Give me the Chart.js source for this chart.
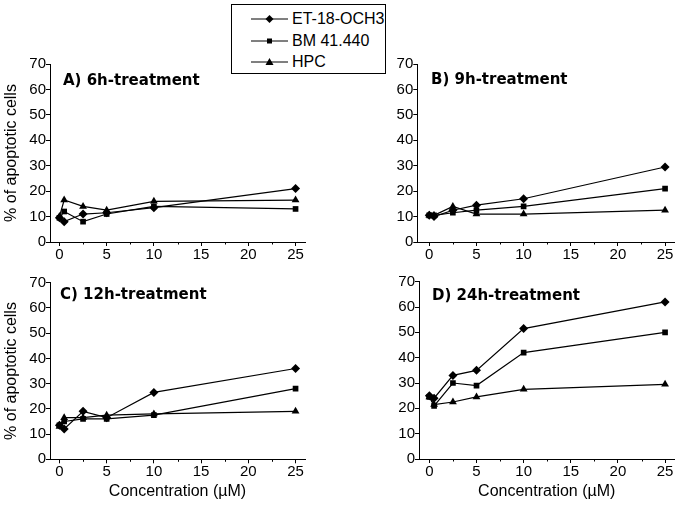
<!DOCTYPE html>
<html lang="en">
<head>
<meta charset="UTF-8">
<title>Apoptotic cells vs concentration</title>
<script src="https://cdn.jsdelivr.net/npm/chart.js"></script>
<style>
  body {
    margin: 0;
    width: 681px;
    height: 507px;
    position: relative;
    overflow: hidden;
    background: #fff;
    font-family: "Liberation Sans", Arial, sans-serif;
    color: #000;
  }
  canvas { position: absolute; }
  .panel-label {
    position: absolute;
    font-family: "DejaVu Sans", sans-serif;
    font-weight: bold;
    font-size: 15px;
    line-height: 18px;
    white-space: nowrap;
    z-index: 2;
  }
  .legend {
    position: absolute;
    left: 231px;
    top: 4px;
    width: 155px;
    height: 70px;
    box-sizing: border-box;
    border: 1px solid #000;
    background: #fff;
    z-index: 2;
  }
  .legend .row {
    position: absolute;
    left: 19px;
    height: 20px;
    display: flex;
    align-items: center;
    font-size: 16px;
    white-space: nowrap;
  }
  .legend svg { margin-right: 4px; }
</style>
</head>
<body>
  <div class="legend">
    <div class="row" style="top:4px">
      <svg width="37" height="12"><line x1="0" y1="6" x2="37" y2="6" stroke="#000" stroke-width="1"/><polygon points="18.5,2 22.5,6 18.5,10 14.5,6" fill="#000"/></svg>ET-18-OCH3
    </div>
    <div class="row" style="top:26px">
      <svg width="37" height="12"><line x1="0" y1="6" x2="37" y2="6" stroke="#000" stroke-width="1"/><rect x="16" y="3.5" width="5" height="5" fill="#000"/></svg>BM 41.440
    </div>
    <div class="row" style="top:47px">
      <svg width="37" height="12"><line x1="0" y1="6" x2="37" y2="6" stroke="#000" stroke-width="1"/><polygon points="18.5,2 22.5,9 14.5,9" fill="#000"/></svg>HPC
    </div>
  </div>

  <div class="panel-label" style="left:63px; top:71px">A) 6h-treatment</div>
  <div class="panel-label" style="left:431px; top:70px">B) 9h-treatment</div>
  <div class="panel-label" style="left:60px; top:285px">C) 12h-treatment</div>
  <div class="panel-label" style="left:432px; top:286px">D) 24h-treatment</div>

  <canvas id="chartA" width="340" height="270" style="left:0; top:0"></canvas>
  <canvas id="chartB" width="341" height="270" style="left:340px; top:0"></canvas>
  <canvas id="chartC" width="340" height="237" style="left:0; top:270px"></canvas>
  <canvas id="chartD" width="341" height="237" style="left:340px; top:270px"></canvas>

<script>
// concentrations (µM)
const conc = [0, 0.5, 2.5, 5, 10, 25];
const xTicks = [0, 5, 10, 15, 20, 25];
const xMinorTicks = [2.5, 7.5, 12.5, 17.5, 22.5];

// % of apoptotic cells
const etA  = [9.5, 8, 11, 11.5, 13.5, 21];
const bmA  = [9.5, 12, 8, 11, 14, 13];
const hpcA = [10, 16.5, 14, 12.5, 16, 16.5];

const etB  = [10.5, 10, 12.5, 14.5, 17, 29.5];
const bmB  = [10.5, 10.5, 11.5, 12.5, 14, 21];
const hpcB = [10.5, 10.5, 14, 11, 11, 12.5];

const etC  = [13.5, 12, 19, 16.5, 26.5, 36];
const bmC  = [13.5, 15, 16, 16, 17.5, 28];
const hpcC = [13, 16.5, 16.5, 17.5, 18, 19];

const etD  = [25, 24, 33, 35, 51.5, 62];
const bmD  = [24.5, 21, 30, 29, 42, 50];
const hpcD = [24.5, 21.5, 22.5, 24.5, 27.5, 29.5];

Chart.defaults.font.family = "'Liberation Sans', Arial, sans-serif";
Chart.defaults.font.size = 15;
Chart.defaults.color = '#000';

// short minor ticks on the x axis
const minorTicks = {
  id: 'minorTicks',
  afterDraw(chart) {
    const sx = chart.scales.x;
    const ctx = chart.ctx;
    ctx.save();
    ctx.strokeStyle = '#000';
    ctx.lineWidth = 1;
    xMinorTicks.forEach(function(v) {
      const px = Math.round(sx.getPixelForValue(v)) + 0.5;
      ctx.beginPath();
      ctx.moveTo(px, sx.top);
      ctx.lineTo(px, sx.top + 2.5);
      ctx.stroke();
    });
    ctx.restore();
  }
};

function points(ys) {
  return conc.map(function(x, i) { return { x: x, y: ys[i] }; });
}

function series(label, ys, style, radius) {
  return {
    label: label,
    data: points(ys),
    borderColor: '#000',
    backgroundColor: '#000',
    borderWidth: 1.2,
    pointStyle: style,
    pointRadius: radius,
    pointBorderWidth: 0,
    tension: 0
  };
}

function buildPanel(id, et, bm, hpc, box) {
  new Chart(document.getElementById(id), {
    type: 'line',
    data: {
      datasets: [
        series('ET-18-OCH3', et, 'rectRot', 4.5),
        series('BM 41.440', bm, 'rect', 4),
        series('HPC', hpc, 'triangle', 4.5)
      ]
    },
    options: {
      responsive: false,
      animation: false,
      devicePixelRatio: 1,
      layout: { padding: { top: box.top, right: box.right, bottom: 0, left: 0 } },
      plugins: { legend: { display: false }, tooltip: { enabled: false } },
      scales: {
        x: {
          type: 'linear',
          min: box.xMin,
          max: 26,
          afterBuildTicks: function(s) { s.ticks = xTicks.map(function(v) { return { value: v }; }); },
          afterFit: function(s) { s.height = box.xh; },
          grid: { drawOnChartArea: false, tickLength: 4, color: '#000' },
          border: { color: '#000', width: 1 },
          ticks: { padding: 0, maxRotation: 0, autoSkip: false },
          title: {
            display: box.xTitle,
            text: 'Concentration (µM)',
            font: { size: 16 },
            padding: { top: 0, bottom: 6 }
          }
        },
        y: {
          min: 0,
          max: 70,
          afterFit: function(s) { s.width = box.left; },
          grid: { drawOnChartArea: false, tickLength: 4, color: '#000' },
          border: { color: '#000', width: 1 },
          ticks: { stepSize: 10, padding: 0 },
          title: {
            display: box.yTitle,
            text: '% of apoptotic cells',
            font: { size: 16 },
            padding: { top: 2, bottom: 0 }
          }
        }
      }
    },
    plugins: [minorTicks]
  });
}

buildPanel('chartA', etA, bmA, hpcA, { top: 64, right: 35, left: 50, xh: 28, xMin: -1, xTitle: false, yTitle: true });
buildPanel('chartB', etB, bmB, hpcB, { top: 64, right: 6.5, left: 77.3, xh: 28, xMin: -1.27, xTitle: false, yTitle: false });
buildPanel('chartC', etC, bmC, hpcC, { top: 12.7, right: 35, left: 50, xh: 47.7, xMin: -1, xTitle: true, yTitle: true });
buildPanel('chartD', etD, bmD, hpcD, { top: 11.7, right: 6.5, left: 79, xh: 48, xMin: -1.1, xTitle: true, yTitle: false });
</script>
</body>
</html>
